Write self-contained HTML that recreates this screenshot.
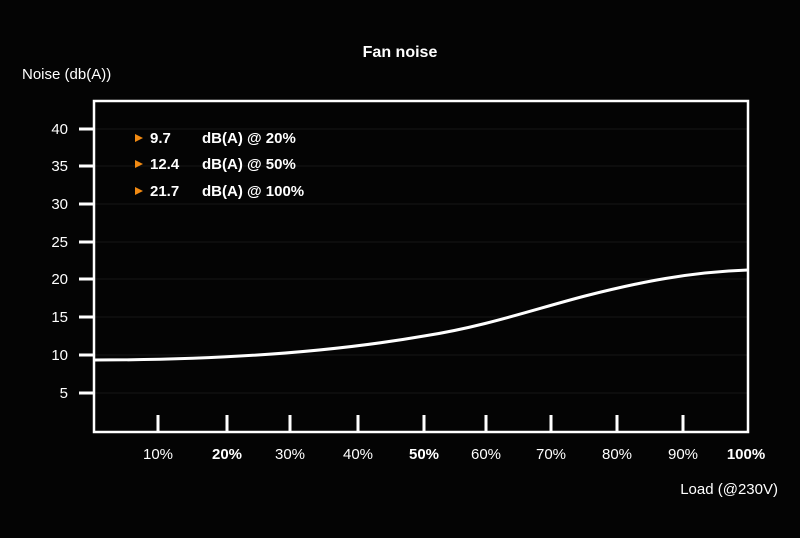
<!DOCTYPE html>
<html><head><style>
body{margin:0;background:#000;}
svg{display:block;font-family:"Liberation Sans",Arial,sans-serif;}
</style></head><body>
<svg width="800" height="538" viewBox="0 0 800 538">
<rect width="800" height="538" fill="#040404"/>
<text x="400" y="57" fill="#fff" font-size="16" font-weight="bold" text-anchor="middle">Fan noise</text>
<text x="22" y="79" fill="#fff" font-size="15">Noise (db(A))</text>
<g stroke="#161616" stroke-width="1">
<line x1="94" y1="129" x2="747" y2="129"/><line x1="94" y1="166" x2="747" y2="166"/>
<line x1="94" y1="204" x2="747" y2="204"/><line x1="94" y1="242" x2="747" y2="242"/>
<line x1="94" y1="279" x2="747" y2="279"/><line x1="94" y1="317" x2="747" y2="317"/>
<line x1="94" y1="355" x2="747" y2="355"/><line x1="94" y1="393" x2="747" y2="393"/>
</g>
<rect x="94" y="101" width="654" height="331" fill="none" stroke="#fff" stroke-width="2.5"/>
<g stroke="#fff" stroke-width="3">
<line x1="79" y1="129" x2="94" y2="129"/><line x1="79" y1="166" x2="94" y2="166"/>
<line x1="79" y1="204" x2="94" y2="204"/><line x1="79" y1="242" x2="94" y2="242"/>
<line x1="79" y1="279" x2="94" y2="279"/><line x1="79" y1="317" x2="94" y2="317"/>
<line x1="79" y1="355" x2="94" y2="355"/><line x1="79" y1="393" x2="94" y2="393"/>
<line x1="158" y1="415" x2="158" y2="432"/><line x1="227" y1="415" x2="227" y2="432"/>
<line x1="290" y1="415" x2="290" y2="432"/><line x1="358" y1="415" x2="358" y2="432"/>
<line x1="424" y1="415" x2="424" y2="432"/><line x1="486" y1="415" x2="486" y2="432"/>
<line x1="551" y1="415" x2="551" y2="432"/><line x1="617" y1="415" x2="617" y2="432"/>
<line x1="683" y1="415" x2="683" y2="432"/>
</g>
<g fill="#fff" font-size="15" text-anchor="end">
<text x="68" y="134">40</text><text x="68" y="171">35</text><text x="68" y="209">30</text>
<text x="68" y="247">25</text><text x="68" y="284">20</text><text x="68" y="322">15</text>
<text x="68" y="360">10</text><text x="68" y="398">5</text>
</g>
<g fill="#fff" font-size="15" text-anchor="middle">
<text x="158" y="459">10%</text><text x="227" y="459" font-weight="bold">20%</text>
<text x="290" y="459">30%</text><text x="358" y="459">40%</text>
<text x="424" y="459" font-weight="bold">50%</text><text x="486" y="459">60%</text>
<text x="551" y="459">70%</text><text x="617" y="459">80%</text>
<text x="683" y="459">90%</text><text x="746" y="459" font-weight="bold">100%</text>
</g>
<text x="778" y="494" fill="#fff" font-size="15" text-anchor="end">Load (@230V)</text>
<g fill="#f28a12"><polygon points="135,134 135,142 143,138"/><polygon points="135,160 135,168 143,164"/><polygon points="135,187 135,195 143,191"/></g>
<g fill="#fff" font-size="15" font-weight="bold">
<text x="150" y="143">9.7</text><text x="202" y="143">dB(A) @ 20%</text>
<text x="150" y="169">12.4</text><text x="202" y="169">dB(A) @ 50%</text>
<text x="150" y="196">21.7</text><text x="202" y="196">dB(A) @ 100%</text>
</g>
<path d="M94,360 C200,360 320,354 424,336 C484,326.8 535,309 585,296 C640,282 690,272 748,270" fill="none" stroke="#fff" stroke-width="3"/>
</svg>
</body></html>
